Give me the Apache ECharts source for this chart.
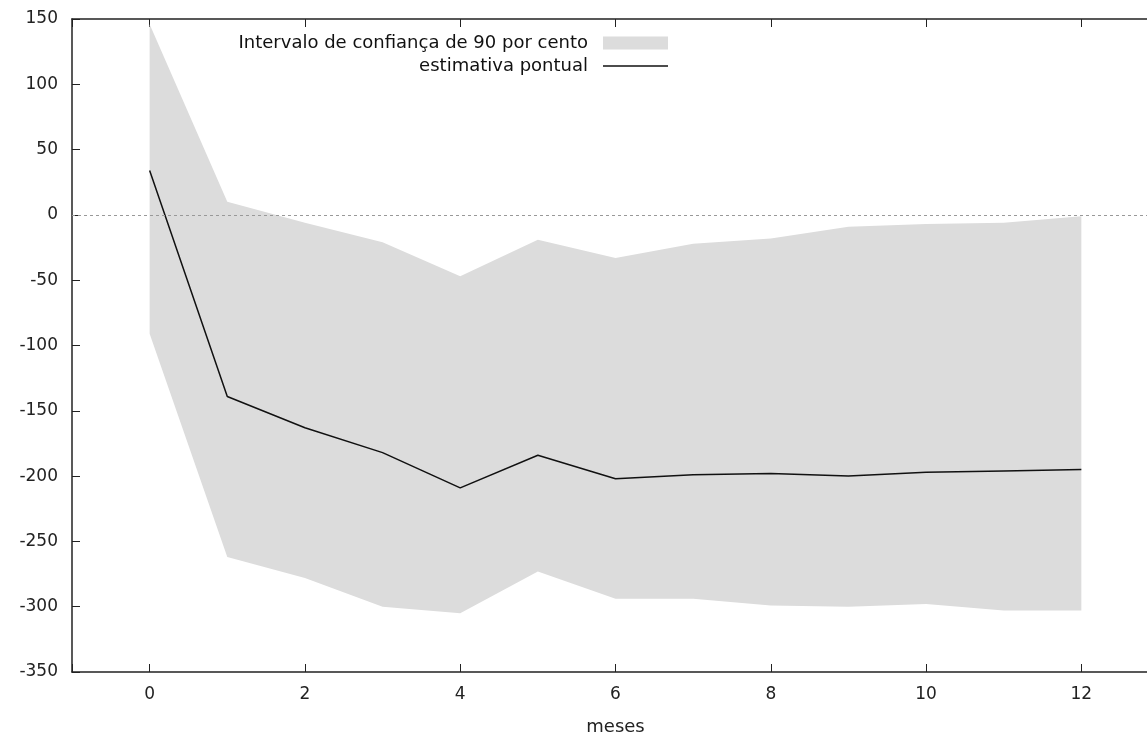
<!DOCTYPE html>
<html>
<head>
<meta charset="utf-8">
<script src="https://cdn.jsdelivr.net/npm/echarts@6/dist/echarts.min.js"></script>
<style>
html,body{margin:0;padding:0;background:#fff;}
#chart{width:1147px;height:735px;}
</style>
</head>
<body>
<div id="chart"></div>
<script>
var months = [0, 1, 2, 3, 4, 5, 6, 7, 8, 9, 10, 11, 12];
var pointEstimate = [34, -139, -163, -182, -209, -184, -202, -199, -198, -200, -197, -196, -195];
var upperBound = [146, 10, -6, -21, -47, -19, -33, -22, -18, -9, -7, -6, -1];
var lowerBound = [-91, -262, -278, -300, -305, -273, -294, -294, -299, -300, -298, -303, -303];
var bandName = 'Intervalo de confiança de 90 por cento';
var lineName = 'estimativa pontual';
var xTitle = 'meses';

var FONT = 'DejaVu Sans';
var chart = echarts.init(document.getElementById('chart'));

var bandData = months.map(function (m, i) { return [m, lowerBound[i], upperBound[i]]; });
var lineData = months.map(function (m, i) { return [m, pointEstimate[i]]; });

var legendText = { fontFamily: FONT, fontSize: 18, color: '#111', padding: [0, 10, 0, 0] };

var option = {
  animation: false,
  backgroundColor: '#ffffff',
  grid: { left: 72, top: 19, right: -12, bottom: 63, containLabel: false, outerBoundsMode: 'none' },
  legend: [
    {
      data: [{ name: bandName, icon: 'rect' }],
      right: 474, top: 29, align: 'right', orient: 'vertical',
      itemWidth: 65, itemHeight: 13, selectedMode: false,
      textStyle: legendText
    },
    {
      data: [{ name: lineName, icon: 'rect' }],
      right: 474, top: 52, align: 'right', orient: 'vertical',
      itemWidth: 65, itemHeight: 1.5, selectedMode: false,
      textStyle: legendText
    }
  ],
  xAxis: [
    {
      type: 'value', min: -1, max: 13, splitNumber: 7,
      name: xTitle, nameLocation: 'middle', nameGap: 46,
      nameTextStyle: { fontFamily: FONT, fontSize: 18, color: '#222' },
      axisLine: { show: true, onZero: false, lineStyle: { color: '#222', width: 1.5 } },
      axisTick: { show: true, inside: true, length: 8, lineStyle: { color: '#222' } },
      axisLabel: {
        fontFamily: FONT, fontSize: 17, color: '#222', margin: 14,
        formatter: function (v) { return (v >= 0 && v <= 12 && v % 2 === 0) ? String(v) : ''; }
      },
      splitLine: { show: false }
    },
    {
      type: 'value', min: -1, max: 13, splitNumber: 7, position: 'top',
      axisLine: { show: true, onZero: false, lineStyle: { color: '#222', width: 1.5 } },
      axisTick: { show: true, inside: true, length: 8, lineStyle: { color: '#222' } },
      axisLabel: { show: false },
      splitLine: { show: false }
    }
  ],
  yAxis: {
    type: 'value', min: -350, max: 150, interval: 50,
    axisLine: { show: true, onZero: false, lineStyle: { color: '#222', width: 1.5 } },
    axisTick: { show: true, inside: true, length: 8, lineStyle: { color: '#222' } },
    axisLabel: { fontFamily: FONT, fontSize: 17, color: '#222', margin: 14 },
    splitLine: { show: false }
  },
  series: [
    {
      name: bandName,
      type: 'custom',
      data: bandData,
      itemStyle: { color: '#dcdcdc' },
      encode: { x: 0, y: [1, 2] },
      z: 1,
      renderItem: function (params, api) {
        if (params.dataIndex !== 0) return;
        var pts = [];
        for (var i = 0; i < bandData.length; i++) pts.push(api.coord([bandData[i][0], bandData[i][2]]));
        for (var j = bandData.length - 1; j >= 0; j--) pts.push(api.coord([bandData[j][0], bandData[j][1]]));
        return { type: 'polygon', shape: { points: pts }, style: { fill: '#dcdcdc' } };
      }
    },
    {
      name: lineName,
      type: 'line',
      data: lineData,
      symbol: 'none',
      showSymbol: false,
      z: 3,
      lineStyle: { color: '#111', width: 1.5 },
      itemStyle: { color: '#111' },
      markLine: {
        silent: true, symbol: 'none', label: { show: false },
        lineStyle: { color: '#999', type: [3, 3], width: 1 },
        data: [{ yAxis: 0 }]
      }
    }
  ]
};
chart.setOption(option);
</script>
</body>
</html>
